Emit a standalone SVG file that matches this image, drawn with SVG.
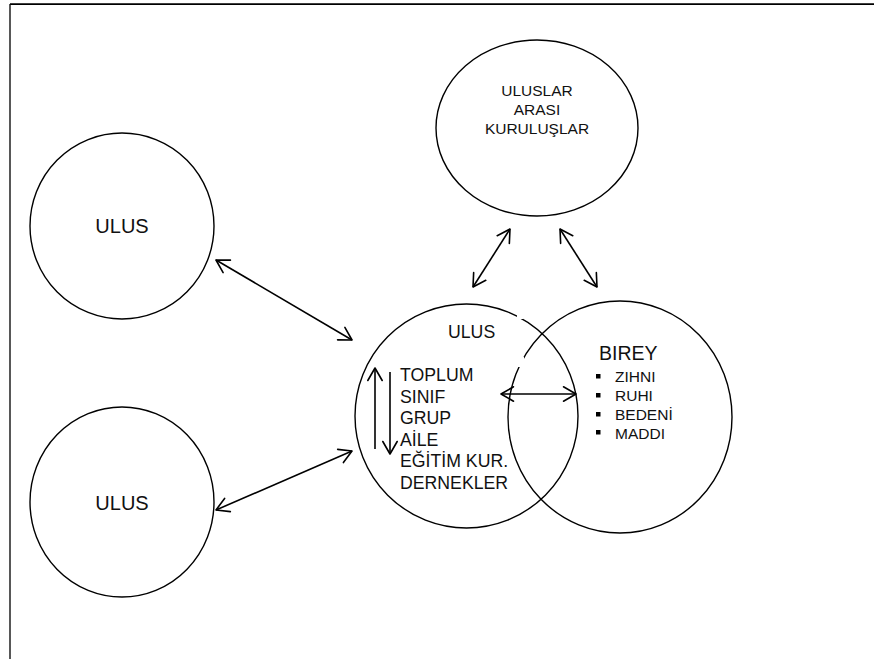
<svg xmlns="http://www.w3.org/2000/svg" width="874" height="659" viewBox="0 0 874 659">
  <style>
    .ring { fill: none; stroke: #000; stroke-width: 1.4; }
    .lbl { font-family: "Liberation Sans", Arial, sans-serif; fill: #111; }
    .link { stroke: #000; stroke-width: 1.6; fill: none; marker-start: url(#head); marker-end: url(#head); }
    .one { stroke: #000; stroke-width: 1.6; fill: none; marker-end: url(#head); }
  </style>
  <defs>
    <marker id="head" markerUnits="userSpaceOnUse" viewBox="-16 -10 20 20" refX="0" refY="0" markerWidth="20" markerHeight="20" orient="auto-start-reverse">
      <path d="M-12.5,-7.2 L0,0 L-12.5,7.2" fill="none" stroke="#000" stroke-width="1.6" stroke-linecap="round" stroke-linejoin="round"/>
    </marker>
  </defs>
  <rect width="874" height="659" fill="#fff"/>

  <!-- page frame -->
  <g id="frame">
    <line x1="10" y1="4.2" x2="874" y2="4.2" stroke="#000" stroke-width="1.8"/>
    <line x1="10" y1="4" x2="10" y2="659" stroke="#111" stroke-width="1.4"/>
  </g>

  <g id="ulus-top">
    <ellipse class="ring" cx="122" cy="226" rx="92" ry="93"/>
    <text class="lbl" x="122" y="233" font-size="20" text-anchor="middle">ULUS</text>
  </g>

  <g id="ulus-bottom">
    <ellipse class="ring" cx="122" cy="502" rx="92" ry="95"/>
    <text class="lbl" x="122" y="510" font-size="20" text-anchor="middle">ULUS</text>
  </g>

  <g id="uluslararasi">
    <ellipse class="ring" cx="537" cy="128" rx="101" ry="88"/>
    <text class="lbl" x="537" y="96" font-size="15.5" text-anchor="middle">ULUSLAR</text>
    <text class="lbl" x="537" y="115" font-size="15.5" text-anchor="middle">ARASI</text>
    <text class="lbl" x="537" y="134" font-size="15.5" text-anchor="middle">KURULUŞLAR</text>
  </g>

  <g id="ulus-main">
    <ellipse class="ring" cx="466.5" cy="416" rx="111.5" ry="112"/>
    <text class="lbl" x="448" y="338" font-size="17.7">ULUS</text>
    <text class="lbl" x="400" y="381" font-size="17.7">TOPLUM</text>
    <text class="lbl" x="400" y="402.5" font-size="17.7">SINIF</text>
    <text class="lbl" x="400" y="424" font-size="17.7">GRUP</text>
    <text class="lbl" x="400" y="445.5" font-size="17.7">AİLE</text>
    <text class="lbl" x="400" y="467" font-size="17.7">EĞİTİM KUR.</text>
    <text class="lbl" x="400" y="488.5" font-size="17.7">DERNEKLER</text>
  </g>

  <g id="birey">
    <ellipse class="ring" cx="620" cy="417" rx="112" ry="116"/>
    <text class="lbl" x="599" y="360" font-size="19.5">BIREY</text>
    <g fill="#000">
      <rect x="596" y="374" width="4.5" height="4.5"/>
      <rect x="596" y="393" width="4.5" height="4.5"/>
      <rect x="596" y="412" width="4.5" height="4.5"/>
      <rect x="596" y="430" width="4.5" height="4.5"/>
    </g>
    <text class="lbl" x="615" y="382" font-size="15.5">ZIHNI</text>
    <text class="lbl" x="615" y="401" font-size="15.5">RUHI</text>
    <text class="lbl" x="615" y="420" font-size="15.5">BEDENİ</text>
    <text class="lbl" x="615" y="438.5" font-size="15.5">MADDI</text>
  </g>

  <!-- small breaks in the outlines where text boxes sit over them -->
  <g id="breaks" fill="#fff">
    <rect x="517" y="309" width="6" height="10"/>
    <rect x="518" y="357" width="6" height="10"/>
  </g>

  <g id="connectors">
    <line class="link" x1="216" y1="260" x2="352" y2="340"/>
    <line class="link" x1="216" y1="510" x2="352" y2="451"/>
    <line class="link" x1="510" y1="229" x2="473" y2="287"/>
    <line class="link" x1="560" y1="229" x2="597" y2="287"/>
    <line class="link" x1="501" y1="394" x2="576" y2="394"/>
    <line class="one" x1="375" y1="449" x2="375" y2="368"/>
    <line class="one" x1="390" y1="372" x2="390" y2="454"/>
  </g>
</svg>
